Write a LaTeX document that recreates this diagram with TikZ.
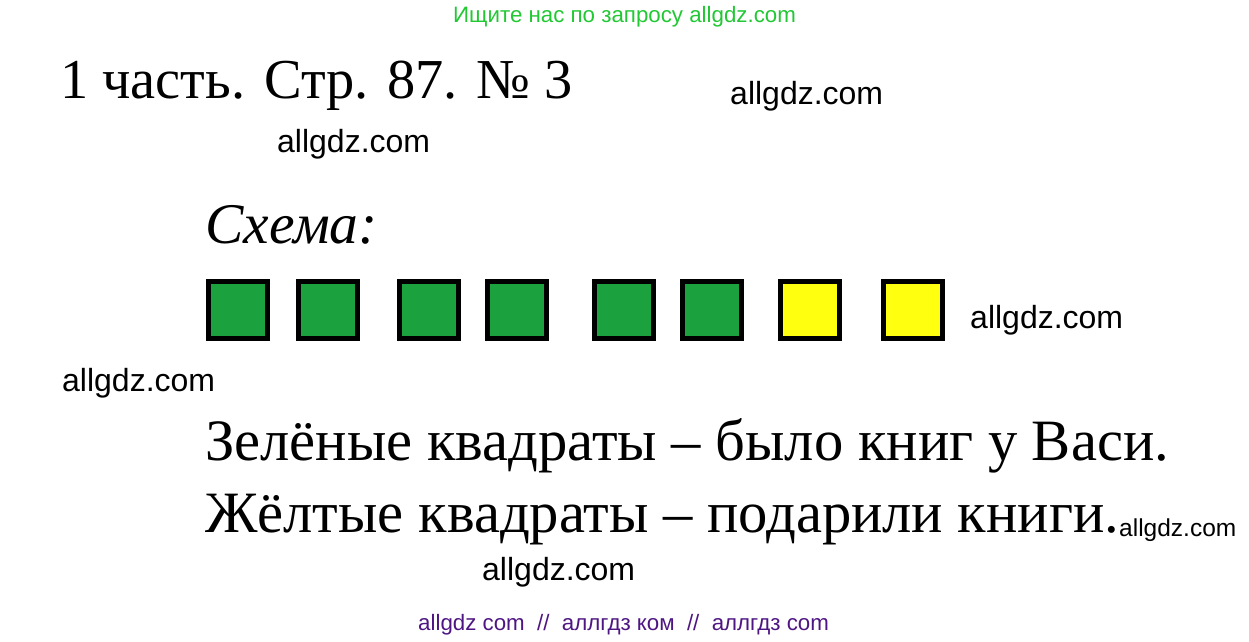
\documentclass[tikz,border=0pt]{standalone}
\usepackage{fontspec}
\setmainfont{Liberation Serif}
\newfontfamily\wmfont{Liberation Sans}
\usepackage{tikz}

\definecolor{sqgreen}{RGB}{27,161,62}
\definecolor{sqyellow}{RGB}{255,255,16}
\definecolor{wmgreen}{RGB}{34,200,52}
\definecolor{wmpurple}{RGB}{78,22,130}

\tikzset{
  cell/.style={draw=black, line width=5pt, minimum width=59pt, minimum height=57pt, inner sep=0pt},
  wm/.style={anchor=base west, inner sep=0pt, font=\wmfont\fontsize{32}{32}\selectfont},
  big/.style={anchor=base west, inner sep=0pt, font=\fontsize{58.6}{58.6}\selectfont}
}

\begin{document}
\begin{tikzpicture}[x=1pt,y=-1pt]
\useasboundingbox (0,0) rectangle (1249,641);

\coordinate (T) at (60,98);
\coordinate (S) at (205,243);
\coordinate (L1) at (205,460);
\coordinate (L2) at (205,532);

\node[big, font=\fontsize{56.4}{56.4}\selectfont] (title) at (T) {1 часть. Стр. 87. №~3};
\node[big, font=\itshape\fontsize{57.5}{57.5}\selectfont] (scheme) at (S) {Схема:};

% squares
\node[cell, fill=sqgreen] (g1) at (237.5,310) {};
\node[cell, fill=sqgreen] (g2) at (328,310) {};
\node[cell, fill=sqgreen] (g3) at (429,310) {};
\node[cell, fill=sqgreen] (g4) at (517,310) {};
\node[cell, fill=sqgreen] (g5) at (624,310) {};
\node[cell, fill=sqgreen] (g6) at (712,310) {};
\node[cell, fill=sqyellow] (y1) at (809.5,310) {};
\node[cell, fill=sqyellow] (y2) at (913,310) {};

\node[big] (green) at (L1) {Зелёные квадраты – было книг у Васи.};
\node[big] (yellow) at (L2) {Жёлтые квадраты – подарили книги.};

% watermarks
\node[wm, font=\wmfont\fontsize{22.3}{22.3}\selectfont, text=wmgreen] (top) at (453,22) {Ищите нас по запросу allgdz.com};
\node[wm] (w1) at (730,104) {allgdz.com};
\node[wm] (w2) at (277,152) {allgdz.com};
\node[wm] (w3) at (970,328) {allgdz.com};
\node[wm] (w4) at (62,391) {allgdz.com};
\node[wm, font=\wmfont\fontsize{24.5}{24.5}\selectfont] (w5) at (1119,536) {allgdz.com};
\node[wm] (w6) at (482,580) {allgdz.com};
\node[wm, font=\wmfont\fontsize{22.3}{22.3}\selectfont, text=wmpurple] (bottom) at (418,630) {allgdz com~~//~~аллгдз ком~~//~~аллгдз com};
\end{tikzpicture}
\end{document}
